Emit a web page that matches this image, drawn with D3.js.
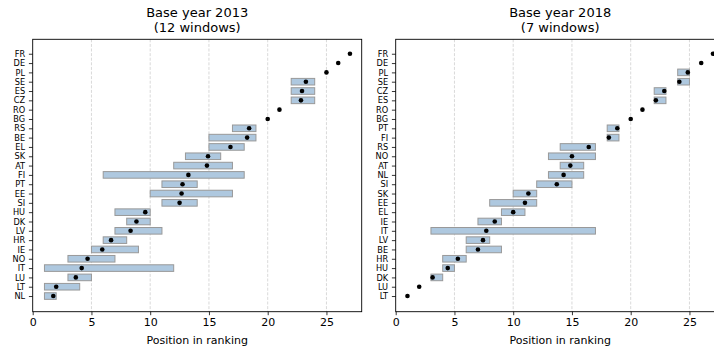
<!DOCTYPE html>
<html>
<head>
<meta charset="utf-8">
<script src="https://cdn.jsdelivr.net/npm/d3@7"></script>
<style>
  html, body { margin: 0; padding: 0; background: #fff; }
  svg { display: block; font-family: "DejaVu Sans", sans-serif; }
</style>
</head>
<body>
<svg id="chart" width="714" height="350"></svg>
<script>
// ---------- data (countries listed top to bottom) ----------
const titles2013 = ["Base year 2013", "(12 windows)"];
const countries2013 = ["FR","DE","PL","SE","ES","CZ","RO","BG","RS","BE","EL","SK","AT","FI","PT","EE","SI","HU","DK","LV","HR","IE","NO","IT","LU","LT","NL"];
const mean2013 = [27,26,25,23.25,22.92,22.83,21,20,18.42,18.25,16.83,14.92,14.83,13.25,12.75,12.67,12.5,9.58,8.83,8.33,6.67,5.92,4.67,4.17,3.67,2.0,1.75];
const min2013  = [null,null,null,22,22,22,null,null,17,15,15,13,12,6,11,10,11,7,8,7,6,5,3,1,3,1,1];
const max2013  = [null,null,null,24,24,24,null,null,19,19,18,16,17,18,14,17,14,10,10,11,8,9,7,12,5,4,2];

const titles2018 = ["Base year 2018", "(7 windows)"];
const countries2018 = ["FR","DE","PL","SE","CZ","ES","RO","BG","PT","FI","RS","NO","AT","NL","SI","SK","EE","EL","IE","IT","LV","BE","HR","HU","DK","LU","LT"];
const mean2018 = [27,26,24.86,24.14,22.86,22.14,21,20,18.86,18.14,16.43,15,14.86,14.29,13.71,11.29,11.0,10.0,8.43,7.71,7.43,7.0,5.29,4.43,3.14,2,1];
const min2018  = [null,null,24,24,22,22,null,null,18,18,14,13,14,13,12,10,8,9,7,3,6,6,4,4,3,null,null];
const max2018  = [null,null,25,25,23,23,null,null,19,19,17,17,16,16,15,12,12,11,9,17,8,9,6,5,4,null,null];

const xTicks = [0,5,10,15,20,25];
const xLabel = "Position in ranking";

// ---------- drawing ----------
const svg = d3.select("#chart");
const plotTop = 39.3, plotBottom = 311.7;

function panel(x0, x1, titles, cats, mean, lo, hi) {
  const g = svg.append("g");
  const n = cats.length;
  const x = d3.scaleLinear().domain([0, 28]).range([x0, x1]);
  // position of row i (0 = top) is n - i
  const y = d3.scaleLinear().domain([-0.68, 28.55]).range([plotBottom, plotTop]);
  const pos = i => n - i;

  // grid
  g.append("g").selectAll("line").data(xTicks.filter(t => t > 0)).join("line")
    .attr("x1", d => x(d)).attr("x2", d => x(d))
    .attr("y1", plotTop).attr("y2", plotBottom)
    .attr("stroke", "#cfcfcf").attr("stroke-width", 0.8)
    .attr("stroke-dasharray", "3,1.6");

  // bars
  const idx = d3.range(n).filter(i => lo[i] !== null);
  const bh = 6.6;
  g.append("g").selectAll("rect").data(idx).join("rect")
    .attr("x", i => x(lo[i])).attr("width", i => x(hi[i]) - x(lo[i]))
    .attr("y", i => y(pos(i)) - bh / 2).attr("height", bh)
    .attr("fill", "#aec8df").attr("stroke", "#999999").attr("stroke-width", 1);

  // dots
  g.append("g").selectAll("circle").data(d3.range(n)).join("circle")
    .attr("cx", i => x(mean[i])).attr("cy", i => y(pos(i))).attr("r", 2.3)
    .attr("fill", "#000");

  // axes
  const xa = g.append("g").attr("transform", `translate(0,${plotBottom})`)
    .call(d3.axisBottom(x).tickValues(xTicks).tickSize(3.5).tickPadding(3.5).tickSizeOuter(0));
  xa.select(".domain").remove();
  xa.selectAll("text").attr("font-size", 11).attr("fill", "#000").attr("font-family", "DejaVu Sans");
  xa.selectAll("line").attr("stroke", "#000").attr("stroke-width", 0.8);

  const ya = g.append("g").attr("transform", `translate(${x0},0)`)
    .call(d3.axisLeft(y).tickValues(d3.range(n).map(pos))
      .tickFormat(p => cats[n - p]).tickSize(3.8).tickPadding(3.8).tickSizeOuter(0));
  ya.select(".domain").remove();
  ya.selectAll("text").attr("font-size", 8.2).attr("fill", "#000").attr("font-family", "DejaVu Sans");
  ya.selectAll("line").attr("stroke", "#000").attr("stroke-width", 0.8);

  // frame
  g.append("rect").attr("x", x0).attr("y", plotTop).attr("width", x1 - x0).attr("height", plotBottom - plotTop)
    .attr("fill", "none").attr("stroke", "#000").attr("stroke-width", 0.9);

  // titles
  const cx = (x0 + x1) / 2;
  g.append("text").attr("x", cx).attr("y", 16.5).attr("text-anchor", "middle")
    .attr("font-size", 13).text(titles[0]);
  g.append("text").attr("x", cx).attr("y", 31.5).attr("text-anchor", "middle")
    .attr("font-size", 13).text(titles[1]);
  g.append("text").attr("x", cx).attr("y", 343.5).attr("text-anchor", "middle")
    .attr("font-size", 11).text(xLabel);
}

panel(32.7, 361.7, titles2013, countries2013, mean2013, min2013, max2013);
panel(395.7, 724.7, titles2018, countries2018, mean2018, min2018, max2018);
</script>
</body>
</html>
